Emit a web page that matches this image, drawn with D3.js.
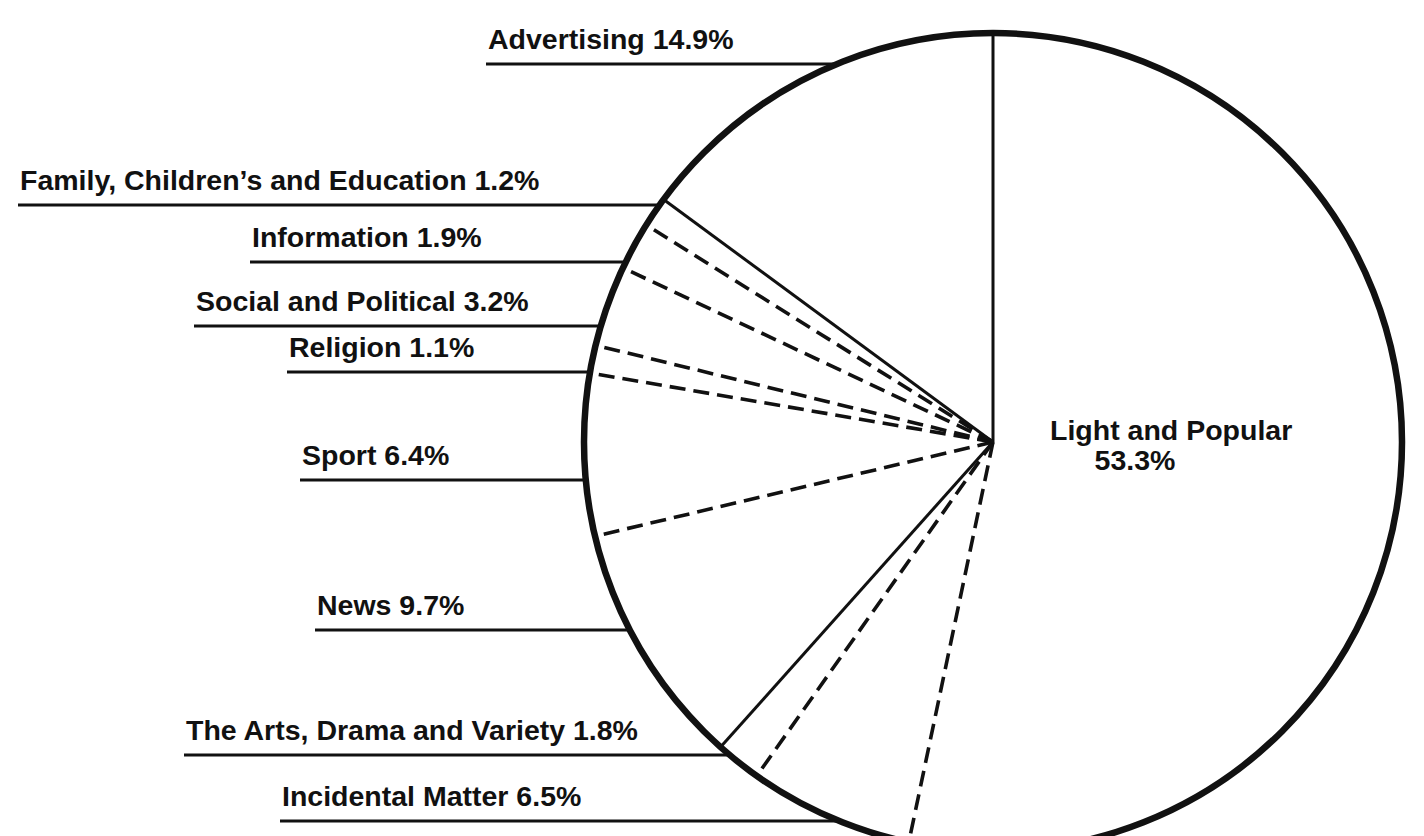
<!DOCTYPE html>
<html>
<head>
<meta charset="utf-8">
<script src="https://cdn.jsdelivr.net/npm/d3@7"></script>
<style>
  html, body { margin: 0; padding: 0; background: #fff; }
  svg { display: block; }
  text { font-family: "Liberation Sans", Arial, sans-serif; font-weight: bold; fill: #111; }
</style>
</head>
<body>
<svg id="chart" width="1424" height="836"></svg>
<script>
// ---- data (clockwise from 12 o'clock) ----
const categories = [
  "Light and Popular",
  "Incidental Matter",
  "The Arts, Drama and Variety",
  "News",
  "Sport",
  "Religion",
  "Social and Political",
  "Information",
  "Family, Children\u2019s and Education",
  "Advertising"
];
const shares = [53.3, 6.5, 1.8, 9.7, 6.4, 1.1, 3.2, 1.9, 1.2, 14.9];
const shareLabels = ["53.3%", "6.5%", "1.8%", "9.7%", "6.4%", "1.1%", "3.2%", "1.9%", "1.2%", "14.9%"];

// ---- style: line style of the boundary at the start of each slice ----
const startBoundaryDashed = [false, true, true, false, true, true, true, true, true, false];

// ---- layout for the outside labels: left x of text/underline, underline y ----
const labelLayout = {
  "Advertising": [486, 64],
  "Family, Children\u2019s and Education": [18, 205],
  "Information": [250, 262],
  "Social and Political": [194, 326],
  "Religion": [287, 372],
  "Sport": [300, 480],
  "News": [315, 630],
  "The Arts, Drama and Variety": [184, 755],
  "Incidental Matter": [280, 821]
};

const cx = 993, cy = 442, R = 409;
const svg = d3.select("#chart");
const g = svg.append("g").attr("transform", `translate(${cx},${cy})`);

const pie = d3.pie().sort(null).value(d => d.v).startAngle(0).endAngle(2 * Math.PI);
const data = categories.map((c, i) => ({ c, v: shares[i], lab: shareLabels[i], dashed: startBoundaryDashed[i] }));
const arcs = pie(data);
const arc = d3.arc().innerRadius(0).outerRadius(R);

g.selectAll("path.slice").data(arcs).join("path")
  .attr("class", "slice")
  .attr("d", arc)
  .attr("fill", "#fff")
  .attr("stroke", "none");

// spokes
g.selectAll("line.spoke").data(arcs).join("line")
  .attr("class", "spoke")
  .attr("x1", 0).attr("y1", 0)
  .attr("x2", d => d3.pointRadial(d.startAngle, R)[0])
  .attr("y2", d => d3.pointRadial(d.startAngle, R)[1])
  .attr("stroke", "#111")
  .attr("stroke-width", d => d.data.dashed ? 3.6 : 3)
  .attr("stroke-dasharray", d => d.data.dashed ? "16,8" : null);

// outer circle
g.append("circle").attr("r", R).attr("fill", "none").attr("stroke", "#111").attr("stroke-width", 6.5);

// outside labels with underline to the rim
const fs = 28.5;
arcs.filter(d => labelLayout[d.data.c]).forEach(d => {
  const [lx, ly] = labelLayout[d.data.c];
  const dy = ly - cy;
  const xEnd = cx - Math.sqrt(R * R - dy * dy);
  svg.append("line")
    .attr("x1", lx).attr("y1", ly).attr("x2", xEnd).attr("y2", ly)
    .attr("stroke", "#111").attr("stroke-width", 3);
  svg.append("text")
    .attr("x", lx + 2).attr("y", ly - 15)
    .attr("font-size", fs)
    .text(`${d.data.c} ${d.data.lab}`);
});

// inside label for the biggest slice
const big = arcs[0];
svg.append("text").attr("x", 1050).attr("y", 440)
  .attr("font-size", fs).text(big.data.c);
svg.append("text").attr("x", 1135).attr("y", 470).attr("text-anchor", "middle")
  .attr("font-size", fs).text(big.data.lab);
</script>
</body>
</html>
